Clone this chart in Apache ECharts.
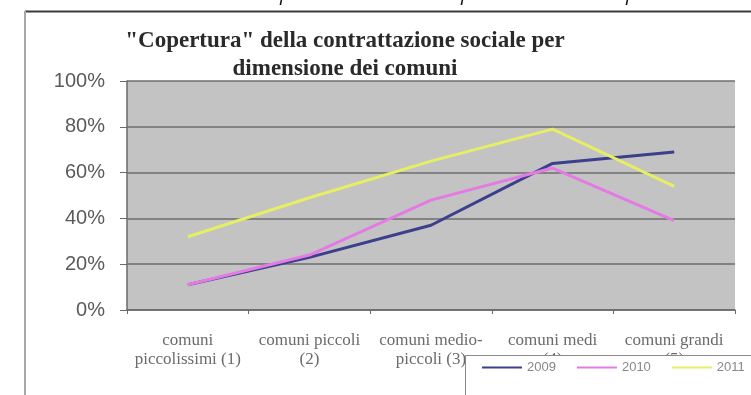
<!DOCTYPE html>
<html><head><meta charset="utf-8">
<script src="https://cdn.jsdelivr.net/npm/echarts@6/dist/echarts.min.js"></script>
<style>html,body{margin:0;padding:0;background:#fff}#c{width:751px;height:395px}</style>
</head><body><div id="c"></div>
<script>
const categories = ["comuni\npiccolissimi (1)", "comuni piccoli\n(2)", "comuni medio-\npiccoli (3)", "comuni medi\n(4)", "comuni grandi\n(5)"];
const s2009 = [0.11, 0.23, 0.37, 0.64, 0.69];
const s2010 = [0.11, 0.24, 0.48, 0.62, 0.39];
const s2011 = [0.32, 0.49, 0.65, 0.79, 0.54];
const yTicks = [0, 0.2, 0.4, 0.6, 0.8, 1];

const chart = echarts.init(document.getElementById('c'));
const mk = (name, data, color) => ({
  name, type: 'line', data, symbol: 'none', smooth: false,
  lineStyle: { color, width: 3 }, itemStyle: { color }, z: 3
});
chart.setOption({
  animation: false,
  backgroundColor: '#fff',
  title: {
    text: '"Copertura" della contrattazione sociale per\ndimensione dei comuni',
    left: 340, top: 22, textAlign: 'center',
    textStyle: { fontFamily: 'Liberation Serif', fontWeight: 'bold', fontSize: 23, color: '#2a2a2a', lineHeight: 28 }
  },
  grid: { left: 127, right: 16, top: 81, bottom: 85 },
  xAxis: {
    type: 'category', data: categories, boundaryGap: true,
    axisLine: { lineStyle: { color: '#6a6a6a', width: 1.5 } },
    axisTick: { show: true, length: 4, lineStyle: { color: '#6a6a6a' } },
    axisLabel: { interval: 0, margin: 21, fontFamily: 'Liberation Serif', fontSize: 17, color: '#6b6b6b', lineHeight: 19 }
  },
  yAxis: {
    type: 'value', min: 0, max: 1, interval: 0.2,
    axisLine: { show: true, lineStyle: { color: '#6a6a6a', width: 1.5 } },
    axisTick: { show: true, length: 7, lineStyle: { color: '#6a6a6a' } },
    axisLabel: { margin: 22, fontFamily: 'Liberation Sans', fontSize: 20, color: '#5a5a5a',
      formatter: v => yTicks.includes(Math.round(v * 10) / 10) ? Math.round(v * 100) + '%' : '' },
    splitLine: { show: true, lineStyle: { color: '#6e6e6e', width: 1.5 } },
    splitArea: { show: false }
  },
  legend: {
    left: 482, top: 361, width: 400, z: 20, itemWidth: 40, itemHeight: 2, itemGap: 21,
    icon: 'rect', padding: 0,
    data: ['2009', '2010', '2011'],
    textStyle: { fontFamily: 'Liberation Sans', fontSize: 13, color: '#888', padding: [0, 0, 0, 0] }
  },
  graphic: [
    { type: 'rect', z: -10, silent: true, shape: { x: 127, y: 81, width: 608, height: 229 }, style: { fill: '#c3c3c3' } },
    { type: 'line', z: 10, shape: { x1: 25, y1: 11.5, x2: 751, y2: 11.5 }, style: { stroke: '#3a3a3a', lineWidth: 2 } },
    { type: 'line', z: 10, shape: { x1: 25, y1: 11, x2: 25, y2: 395 }, style: { stroke: '#a8a8a8', lineWidth: 2 } },
    { type: 'rect', z: 15, shape: { x: 465.5, y: 355.5, width: 320, height: 100 }, style: { fill: '#fff', stroke: '#8a8a8a', lineWidth: 1 } },
    { type: 'text', z: 10, x: 280, y: -6, style: { text: 'p', fontFamily: 'Open Sans', fontStyle: 'italic', fontSize: 20, fill: '#111', textVerticalAlign: 'middle' } },
    { type: 'text', z: 10, x: 461, y: -6, style: { text: 'p', fontFamily: 'Open Sans', fontStyle: 'italic', fontSize: 20, fill: '#111', textVerticalAlign: 'middle' } },
    { type: 'text', z: 10, x: 626, y: -6, style: { text: 'p', fontFamily: 'Open Sans', fontStyle: 'italic', fontSize: 20, fill: '#111', textVerticalAlign: 'middle' } }
  ],
  series: [
    mk('2009', s2009, '#3b3f8c'),
    mk('2010', s2010, '#e47ae4'),
    mk('2011', s2011, '#e6ee64')
  ]
});
</script></body></html>
